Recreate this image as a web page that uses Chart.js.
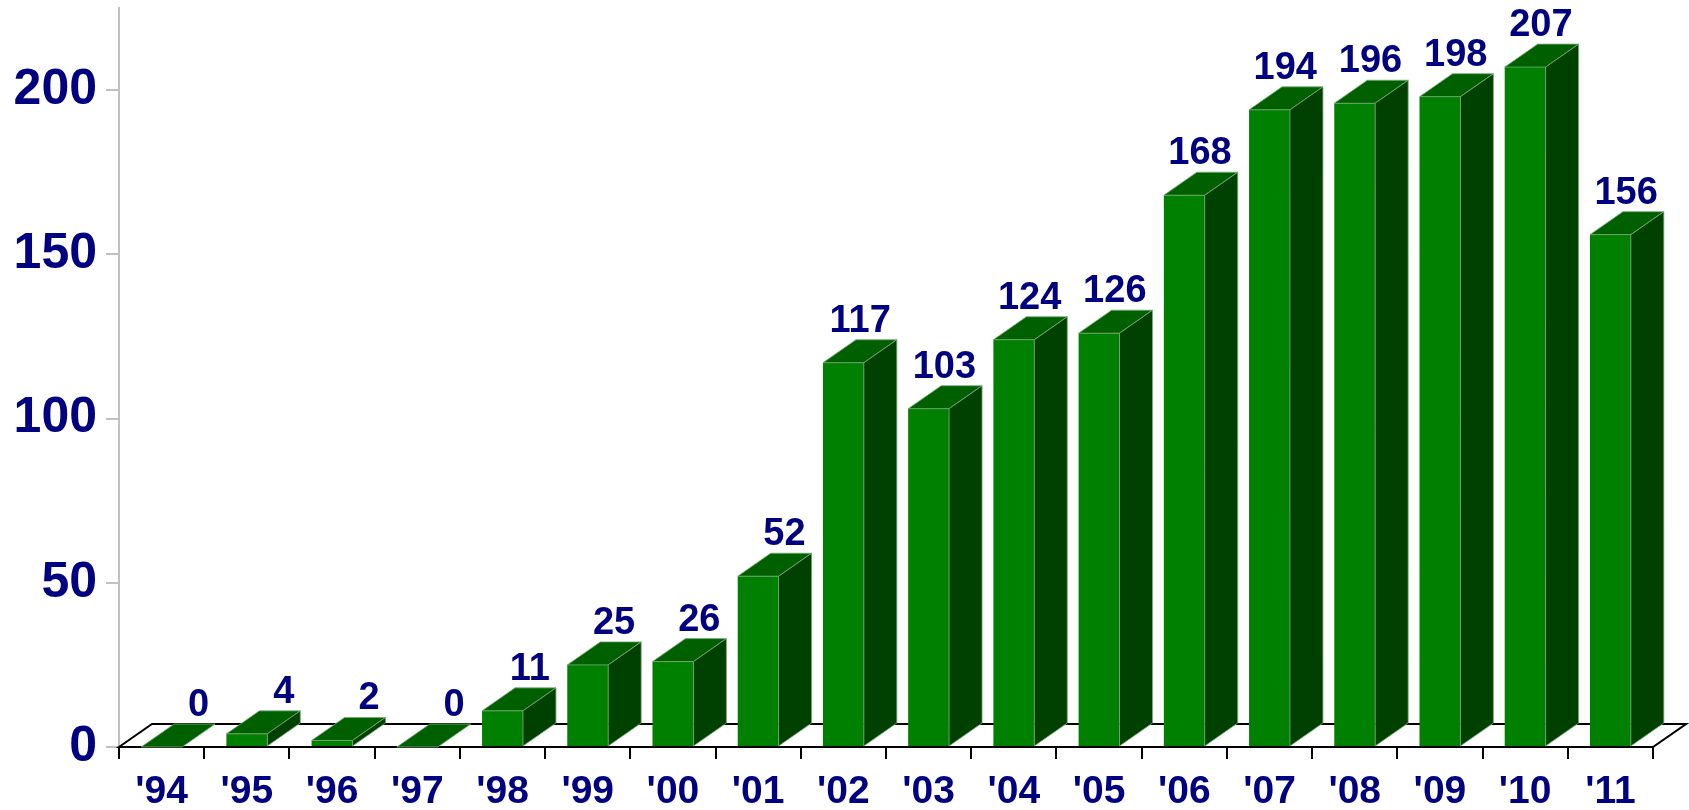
<!DOCTYPE html>
<html>
<head>
<meta charset="utf-8">
<script src="https://cdn.jsdelivr.net/npm/chart.js@4/dist/chart.umd.min.js"></script>
<style>
  html, body { margin: 0; padding: 0; background: #fff; }
  #wrap { width: 1689px; height: 810px; position: relative; }
</style>
</head>
<body>
<div id="wrap"><canvas id="chart"></canvas></div>
<script>
// Data
const years = ["'94", "'95", "'96", "'97", "'98", "'99", "'00", "'01", "'02",
               "'03", "'04", "'05", "'06", "'07", "'08", "'09", "'10", "'11"];
const counts = [0, 4, 2, 0, 11, 25, 26, 52, 117, 103, 124, 126, 168, 194, 196, 198, 207, 156];
const yMax = 225;
const yStep = 50;

// Look
const navy = '#000080';
const frontColor = '#008000';
const topColor = '#006000';
const sideColor = '#004000';
const edgeColor = 'rgba(120, 170, 120, 0.8)';
const fontFamily = '"Liberation Sans", Arial, sans-serif';
const depthX = 33;
const depthY = 23;

// Floor + side/top faces + value labels
const bar3d = {
  id: 'bar3d',
  beforeDatasetsDraw(chart) {
    const { ctx, chartArea: a } = chart;
    const y0 = chart.scales.y.getPixelForValue(0);
    ctx.save();
    ctx.beginPath();
    ctx.moveTo(a.left, y0);
    ctx.lineTo(a.left + depthX, y0 - depthY);
    ctx.lineTo(a.right + depthX, y0 - depthY);
    ctx.lineTo(a.right, y0);
    ctx.closePath();
    ctx.fillStyle = '#fff';
    ctx.fill();
    ctx.strokeStyle = '#000';
    ctx.lineWidth = 2;
    ctx.stroke();
    ctx.restore();
  },
  afterDatasetsDraw(chart) {
    const { ctx } = chart;
    const meta = chart.getDatasetMeta(0);
    ctx.save();
    meta.data.forEach((bar, i) => {
      const { x, y, base, width } = bar.getProps(['x', 'y', 'base', 'width'], true);
      const l = x - width / 2;
      const r = x + width / 2;

      // top face
      ctx.beginPath();
      ctx.moveTo(l, y);
      ctx.lineTo(l + depthX, y - depthY);
      ctx.lineTo(r + depthX, y - depthY);
      ctx.lineTo(r, y);
      ctx.closePath();
      ctx.fillStyle = topColor;
      ctx.fill();
      ctx.strokeStyle = edgeColor;
      ctx.lineWidth = 1;
      ctx.stroke();

      // side face
      if (base - y > 0.5) {
        ctx.beginPath();
        ctx.moveTo(r, y);
        ctx.lineTo(r + depthX, y - depthY);
        ctx.lineTo(r + depthX, base - depthY);
        ctx.lineTo(r, base);
        ctx.closePath();
        ctx.fillStyle = sideColor;
        ctx.fill();
        ctx.strokeStyle = edgeColor;
        ctx.stroke();
      }

      // value label
      ctx.fillStyle = navy;
      ctx.font = 'bold 38px ' + fontFamily;
      ctx.textAlign = 'right';
      ctx.textBaseline = 'alphabetic';
      ctx.fillText(String(counts[i]), r + depthX - 6, y - depthY - 8);
    });
    ctx.restore();
  }
};

const ctx = document.getElementById('chart').getContext('2d');
new Chart(ctx, {
  type: 'bar',
  data: {
    labels: years,
    datasets: [{
      data: counts,
      backgroundColor: frontColor,
      borderWidth: 0,
      categoryPercentage: 1,
      barPercentage: 0.48,
    }],
  },
  options: {
    responsive: true,
    maintainAspectRatio: false,
    animation: false,
    devicePixelRatio: 1,
    layout: { padding: { top: 8, right: 36, left: 0, bottom: 0 } },
    plugins: {
      legend: { display: false },
      tooltip: { enabled: false },
    },
    scales: {
      x: {
        grid: {
          display: true,
          drawOnChartArea: false,
          drawTicks: true,
          tickLength: 12,
          color: '#000',
          lineWidth: 2,
          offset: true,
        },
        border: { display: true, color: '#000', width: 2 },
        ticks: {
          color: navy,
          font: { family: fontFamily, size: 39, weight: 'bold' },
          padding: 10,
          autoSkip: false,
          maxRotation: 0,
        },
        afterFit(scale) {
          scale.height = 63;
          scale.paddingLeft = 0;
          scale.paddingRight = 0;
        },
      },
      y: {
        min: 0,
        max: yMax,
        grid: {
          drawOnChartArea: false,
          drawTicks: true,
          tickLength: 13,
          color: '#c0c0c0',
          lineWidth: 2,
        },
        border: { display: true, color: '#c0c0c0', width: 2 },
        ticks: {
          stepSize: yStep,
          includeBounds: false,
          color: navy,
          font: { family: fontFamily, size: 50, weight: 'bold' },
          padding: 9,
        },
        afterFit(scale) {
          scale.width = 119;
          scale.paddingTop = 0;
          scale.paddingBottom = 0;
        },
      },
    },
  },
  plugins: [bar3d],
});
</script>
</body>
</html>
